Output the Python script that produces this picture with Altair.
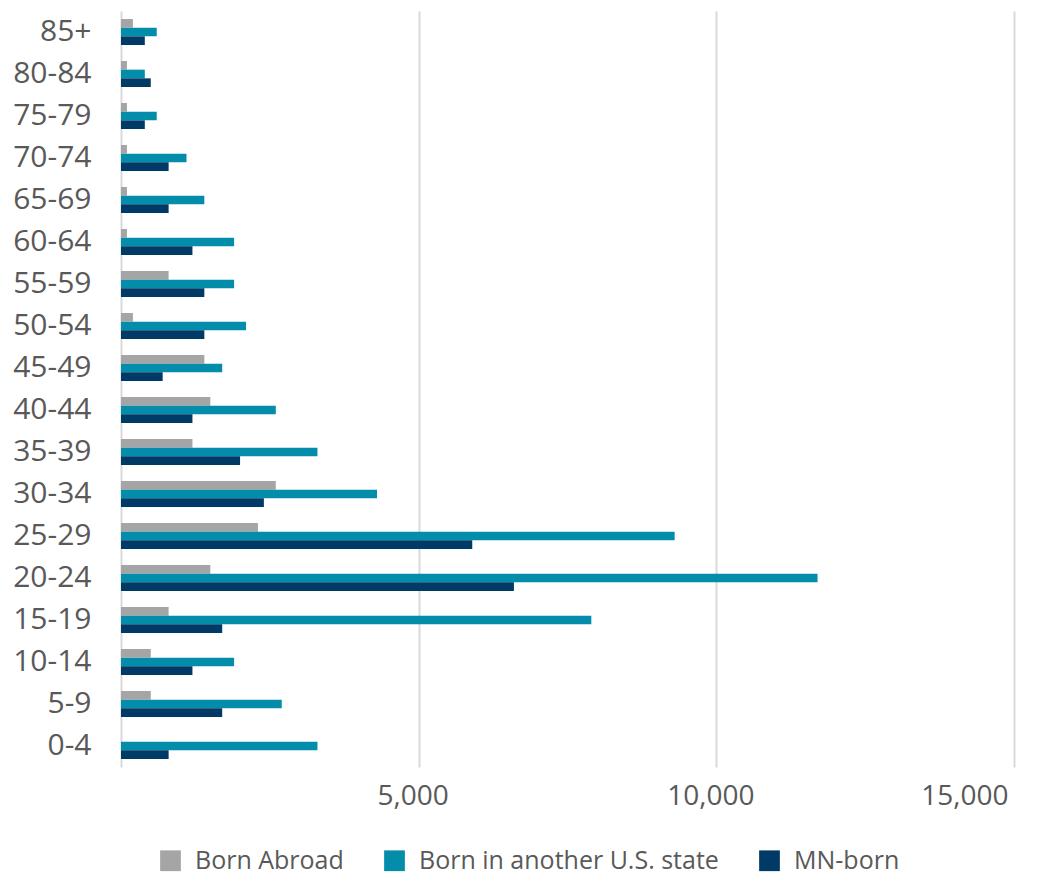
import altair as alt
import pandas as pd

# Age groups (bottom to top) and counts per birthplace group
ages = ["0-4", "5-9", "10-14", "15-19", "20-24", "25-29", "30-34", "35-39", "40-44",
        "45-49", "50-54", "55-59", "60-64", "65-69", "70-74", "75-79", "80-84", "85+"]
born_abroad = [0, 500, 500, 800, 1500, 2300, 2600, 1200, 1500,
               1400, 200, 800, 100, 100, 100, 100, 100, 200]
born_other_state = [3300, 2700, 1900, 7900, 11700, 9300, 4300, 3300, 2600,
                    1700, 2100, 1900, 1900, 1400, 1100, 600, 400, 600]
mn_born = [800, 1700, 1200, 1700, 6600, 5900, 2400, 2000, 1200,
           700, 1400, 1400, 1200, 800, 800, 400, 500, 400]

groups = ["Born Abroad", "Born in another U.S. state", "MN-born"]
colors = ["#A5A5A5", "#038DAA", "#003A66"]
x_ticks = [0, 5000, 10000, 15000]

rows = []
for series, vals in zip(groups, [born_abroad, born_other_state, mn_born]):
    for age, v in zip(ages, vals):
        rows.append({"age": age, "group": series, "count": v})
df = pd.DataFrame(rows)

label_color = "#595959"

chart = (
    alt.Chart(df)
    .mark_bar()
    .encode(
        y=alt.Y(
            "age:N",
            sort=list(reversed(ages)),
            scale=alt.Scale(paddingInner=0.38, paddingOuter=0.19),
            axis=alt.Axis(
                title=None,
                domain=False,
                ticks=False,
                labelFont="Open Sans",
                labelFontSize=30,
                labelColor=label_color,
                labelPadding=30,
            ),
        ),
        yOffset=alt.YOffset(
            "group:N",
            sort=groups,
            scale=alt.Scale(paddingInner=0, paddingOuter=0),
        ),
        x=alt.X(
            "count:Q",
            scale=alt.Scale(domain=[0, 15000], nice=False),
            axis=alt.Axis(
                title=None,
                values=x_ticks,
                domain=False,
                ticks=False,
                grid=True,
                gridColor="#D9D9D9",
                gridWidth=2,
                labelExpr="datum.value == 0 ? '' : format(datum.value, ',')",
                labelFont="Open Sans",
                labelFontSize=28,
                labelColor=label_color,
                labelPadding=15,
                labelOffset=-6,
            ),
        ),
        color=alt.Color(
            "group:N",
            sort=groups,
            scale=alt.Scale(domain=groups, range=colors),
            legend=alt.Legend(
                title=None,
                orient="none",
                direction="horizontal",
                legendX=37,
                legendY=837,
                symbolType="square",
                symbolSize=430,
                symbolStrokeWidth=0,
                labelFont="Open Sans",
                labelFontSize=25,
                labelColor=label_color,
                labelOffset=12,
                labelLimit=500,
                columnPadding=38,
                padding=0,
            ),
        ),
    )
    .properties(
        width=893,
        height=756,
        padding={"left": 121, "top": 11, "right": 46, "bottom": 111},
        autosize=alt.AutoSizeParams(type="none"),
        background="white",
    )
    .configure_view(stroke=None)
)

chart.save("out.html", embed_options={"renderer": "svg", "actions": False})
